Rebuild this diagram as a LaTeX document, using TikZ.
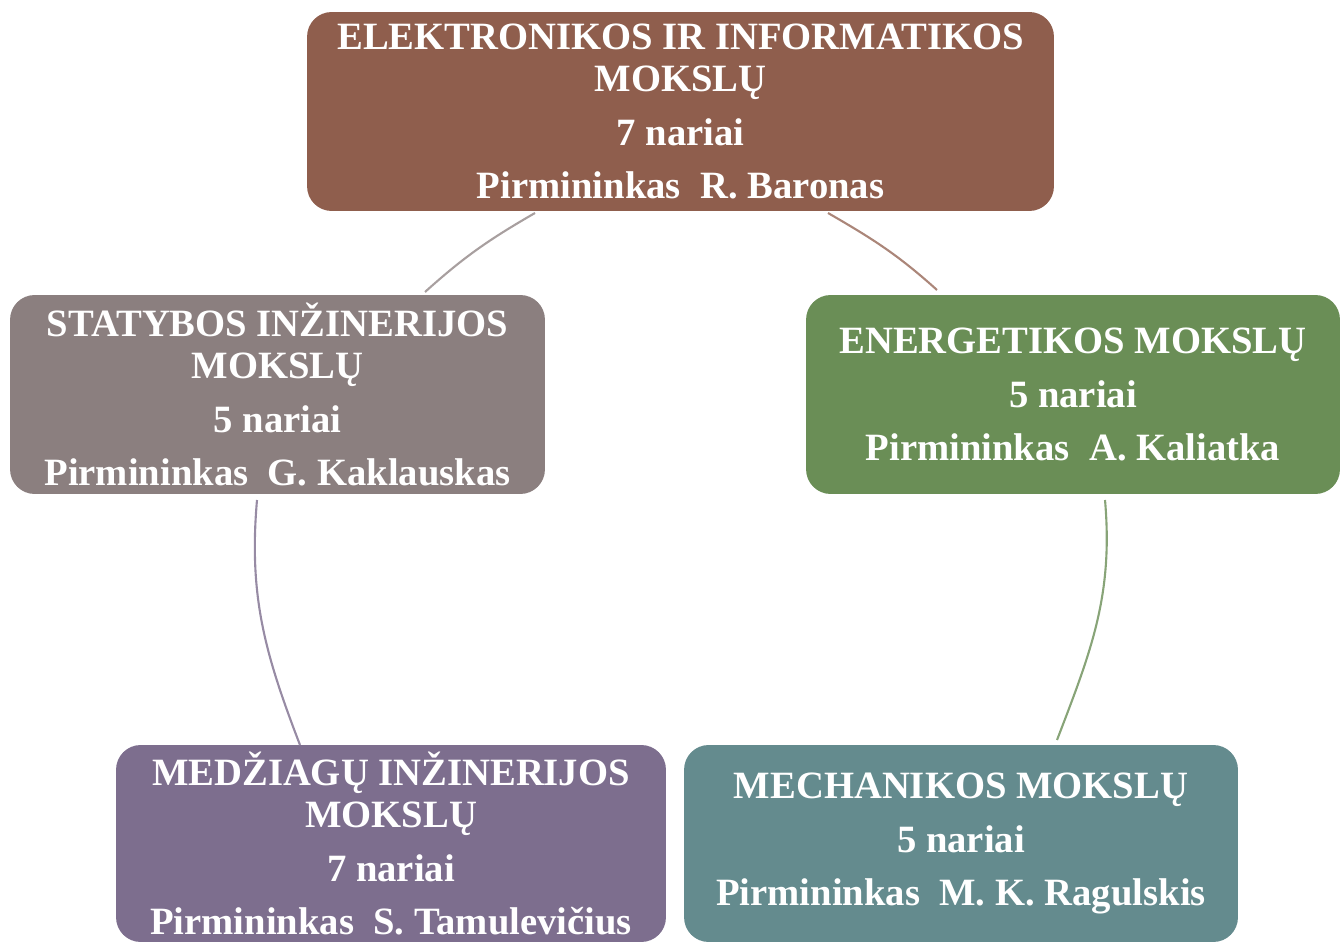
\documentclass[tikz,border=0pt]{standalone}
\usepackage{fontspec}
\setmainfont{Liberation Serif}
\usepackage{xcolor}
\definecolor{elekbrown}{HTML}{8F5E4D}
\definecolor{statgray}{HTML}{8B7F7F}
\definecolor{energreen}{HTML}{6A8E56}
\definecolor{medzpurple}{HTML}{7D6E8E}
\definecolor{mechteal}{HTML}{648B8E}

\begin{document}
\begin{tikzpicture}[x=0.02cm,y=0.02cm,
  box/.style={rounded corners=14pt,align=center,text=white,inner sep=0pt,
    font=\fontsize{22}{24}\selectfont\bfseries,minimum height=3.98cm},
  ring/.style={line width=1.2pt}]
  \useasboundingbox (0,0) rectangle (1344,943);

  % Committees
  \node[box,fill=elekbrown,minimum width=14.94cm] (elek) at (680.5,831.5)
    {ELEKTRONIKOS IR INFORMATIKOS\\MOKSLŲ\\[6.5pt]7 nariai\\[6.5pt]Pirmininkas~~R. Baronas};
  \node[box,fill=statgray,minimum width=10.7cm] (stat) at (277.5,548.5)
    {STATYBOS INŽINERIJOS\\MOKSLŲ\\[6.5pt]5 nariai\\[6.5pt]Pirmininkas~~G. Kaklauskas};
  \node[box,fill=energreen,minimum width=10.68cm] (ener) at (1073,548.5)
    {ENERGETIKOS MOKSLŲ\\[6.5pt]5 nariai\\[6.5pt]Pirmininkas~~A. Kaliatka};
  \node[box,fill=medzpurple,minimum width=11cm,minimum height=3.94cm] (medz) at (391,99.5)
    {MEDŽIAGŲ INŽINERIJOS\\MOKSLŲ\\[6.5pt]7 nariai\\[6.5pt]Pirmininkas~~S. Tamulevičius};
  \node[box,fill=mechteal,minimum width=11.08cm,minimum height=3.94cm] (mech) at (961,99.5)
    {MECHANIKOS MOKSLŲ\\[6.5pt]5 nariai\\[6.5pt]Pirmininkas~~M. K. Ragulskis};

  % Arc ends
  \coordinate (statout) at (425,651);
  \coordinate (elekin) at (535,730);
  \coordinate (elekout) at (828,730);
  \coordinate (enerin) at (937,653);
  \coordinate (enerout) at (1105,443);
  \coordinate (mechin) at (1057,203);
  \coordinate (medzout) at (300,198);
  \coordinate (statin) at (257,443);

  % Cycle arcs
  \foreach \a/\b/\o/\i/\c in {
    statout/elekin/42/210/statgray!75,
    elekout/enerin/-30/138/elekbrown!75,
    enerout/mechin/-85/69/energreen!80,
    medzout/statin/111/265/medzpurple!80%
  } {
    \draw[ring,\c] (\a) to[out=\o,in=\i] (\b);
  }
\end{tikzpicture}
\end{document}
